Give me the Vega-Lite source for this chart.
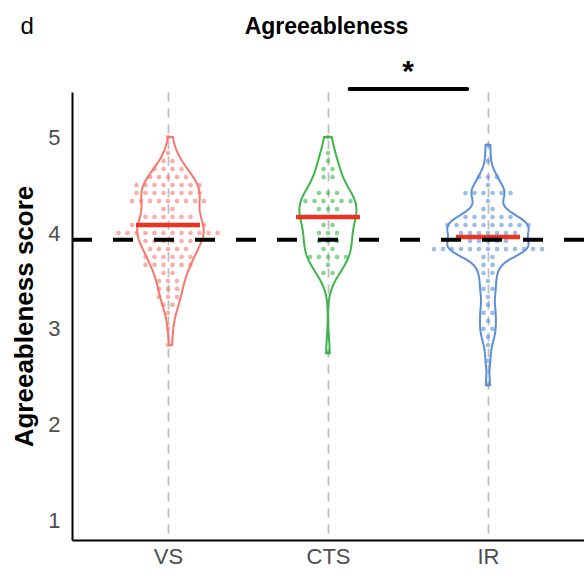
{
"$schema": "https://vega.github.io/schema/vega-lite/v6.json",
"width": 512, "height": 448,
"autosize": {"type": "none"},
"padding": {"left": 72, "top": 92, "right": 0, "bottom": 35},
"background": "white",
"datasets": {
"pts": [
{"g":"VS","s":5},{"g":"VS","s":4.833},{"g":"VS","s":4.75},{"g":"VS","s":4.75},
{"g":"VS","s":4.667},{"g":"VS","s":4.667},{"g":"VS","s":4.667},{"g":"VS","s":4.667},
{"g":"VS","s":4.583},{"g":"VS","s":4.583},{"g":"VS","s":4.583},{"g":"VS","s":4.583},{"g":"VS","s":4.583},
{"g":"VS","s":4.5},{"g":"VS","s":4.5},{"g":"VS","s":4.5},{"g":"VS","s":4.5},{"g":"VS","s":4.5},{"g":"VS","s":4.5},{"g":"VS","s":4.5},{"g":"VS","s":4.5},
{"g":"VS","s":4.417},{"g":"VS","s":4.417},{"g":"VS","s":4.417},{"g":"VS","s":4.417},{"g":"VS","s":4.417},{"g":"VS","s":4.417},{"g":"VS","s":4.417},{"g":"VS","s":4.417},
{"g":"VS","s":4.333},{"g":"VS","s":4.333},{"g":"VS","s":4.333},{"g":"VS","s":4.333},{"g":"VS","s":4.333},{"g":"VS","s":4.333},{"g":"VS","s":4.333},{"g":"VS","s":4.333},{"g":"VS","s":4.333},
{"g":"VS","s":4.25},{"g":"VS","s":4.25},
{"g":"VS","s":4.167},{"g":"VS","s":4.167},{"g":"VS","s":4.167},{"g":"VS","s":4.167},{"g":"VS","s":4.167},{"g":"VS","s":4.167},
{"g":"VS","s":4.083},{"g":"VS","s":4.083},{"g":"VS","s":4.083},{"g":"VS","s":4.083},{"g":"VS","s":4.083},{"g":"VS","s":4.083},{"g":"VS","s":4.083},{"g":"VS","s":4.083},{"g":"VS","s":4.083},
{"g":"VS","s":4},{"g":"VS","s":4},{"g":"VS","s":4},{"g":"VS","s":4},{"g":"VS","s":4},{"g":"VS","s":4},{"g":"VS","s":4},{"g":"VS","s":4},{"g":"VS","s":4},{"g":"VS","s":4},{"g":"VS","s":4},{"g":"VS","s":4},
{"g":"VS","s":3.917},{"g":"VS","s":3.917},{"g":"VS","s":3.917},{"g":"VS","s":3.917},{"g":"VS","s":3.917},{"g":"VS","s":3.917},
{"g":"VS","s":3.833},{"g":"VS","s":3.833},{"g":"VS","s":3.833},{"g":"VS","s":3.833},{"g":"VS","s":3.833},
{"g":"VS","s":3.75},{"g":"VS","s":3.75},{"g":"VS","s":3.75},{"g":"VS","s":3.75},{"g":"VS","s":3.75},{"g":"VS","s":3.75},
{"g":"VS","s":3.667},{"g":"VS","s":3.667},{"g":"VS","s":3.667},{"g":"VS","s":3.667},{"g":"VS","s":3.667},{"g":"VS","s":3.667},
{"g":"VS","s":3.583},{"g":"VS","s":3.583},
{"g":"VS","s":3.5},{"g":"VS","s":3.5},{"g":"VS","s":3.5},
{"g":"VS","s":3.417},{"g":"VS","s":3.417},{"g":"VS","s":3.417},
{"g":"VS","s":3.333},{"g":"VS","s":3.333},{"g":"VS","s":3.333},
{"g":"VS","s":3.25},{"g":"VS","s":3.25},
{"g":"VS","s":3.167},{"g":"VS","s":3},{"g":"VS","s":2.833},
{"g":"CTS","s":5},{"g":"CTS","s":4.833},{"g":"CTS","s":4.75},
{"g":"CTS","s":4.667},{"g":"CTS","s":4.667},
{"g":"CTS","s":4.583},{"g":"CTS","s":4.583},
{"g":"CTS","s":4.417},{"g":"CTS","s":4.417},{"g":"CTS","s":4.417},
{"g":"CTS","s":4.333},{"g":"CTS","s":4.333},{"g":"CTS","s":4.333},{"g":"CTS","s":4.333},{"g":"CTS","s":4.333},{"g":"CTS","s":4.333},
{"g":"CTS","s":4.25},{"g":"CTS","s":4.25},{"g":"CTS","s":4.25},
{"g":"CTS","s":4.167},{"g":"CTS","s":4.167},{"g":"CTS","s":4.167},{"g":"CTS","s":4.167},
{"g":"CTS","s":4.083},{"g":"CTS","s":4.083},
{"g":"CTS","s":4},{"g":"CTS","s":4},{"g":"CTS","s":4},
{"g":"CTS","s":3.917},{"g":"CTS","s":3.917},{"g":"CTS","s":3.917},
{"g":"CTS","s":3.833},{"g":"CTS","s":3.833},
{"g":"CTS","s":3.75},{"g":"CTS","s":3.75},{"g":"CTS","s":3.75},{"g":"CTS","s":3.75},{"g":"CTS","s":3.75},
{"g":"CTS","s":3.667},
{"g":"CTS","s":3.583},{"g":"CTS","s":3.583},
{"g":"CTS","s":2.75},
{"g":"IR","s":4.917},{"g":"IR","s":4.75},
{"g":"IR","s":4.583},{"g":"IR","s":4.583},{"g":"IR","s":4.583},
{"g":"IR","s":4.5},
{"g":"IR","s":4.417},{"g":"IR","s":4.417},{"g":"IR","s":4.417},{"g":"IR","s":4.417},{"g":"IR","s":4.417},{"g":"IR","s":4.417},
{"g":"IR","s":4.333},
{"g":"IR","s":4.25},{"g":"IR","s":4.25},
{"g":"IR","s":4.167},{"g":"IR","s":4.167},{"g":"IR","s":4.167},{"g":"IR","s":4.167},{"g":"IR","s":4.167},{"g":"IR","s":4.167},
{"g":"IR","s":4.083},{"g":"IR","s":4.083},{"g":"IR","s":4.083},{"g":"IR","s":4.083},{"g":"IR","s":4.083},{"g":"IR","s":4.083},{"g":"IR","s":4.083},{"g":"IR","s":4.083},{"g":"IR","s":4.083},{"g":"IR","s":4.083},
{"g":"IR","s":4},{"g":"IR","s":4},{"g":"IR","s":4},{"g":"IR","s":4},{"g":"IR","s":4},{"g":"IR","s":4},{"g":"IR","s":4},
{"g":"IR","s":3.917},{"g":"IR","s":3.917},{"g":"IR","s":3.917},{"g":"IR","s":3.917},{"g":"IR","s":3.917},
{"g":"IR","s":3.833},{"g":"IR","s":3.833},{"g":"IR","s":3.833},{"g":"IR","s":3.833},{"g":"IR","s":3.833},{"g":"IR","s":3.833},{"g":"IR","s":3.833},{"g":"IR","s":3.833},{"g":"IR","s":3.833},{"g":"IR","s":3.833},{"g":"IR","s":3.833},{"g":"IR","s":3.833},{"g":"IR","s":3.833},
{"g":"IR","s":3.75},{"g":"IR","s":3.75},
{"g":"IR","s":3.667},{"g":"IR","s":3.667},
{"g":"IR","s":3.583},{"g":"IR","s":3.583},
{"g":"IR","s":3.5},
{"g":"IR","s":3.417},{"g":"IR","s":3.417},
{"g":"IR","s":3.333},{"g":"IR","s":3.25},
{"g":"IR","s":3.167},{"g":"IR","s":3.167},
{"g":"IR","s":3.083},
{"g":"IR","s":3},{"g":"IR","s":3},
{"g":"IR","s":2.917},{"g":"IR","s":2.833},{"g":"IR","s":2.667},{"g":"IR","s":2.417}
],
"ref": [{"mean": 3.93}],
"sig": [{"from": 2.135, "to": 2.87, "mid": 2.5, "y": 5.5, "label": "*"}]
},
"resolve": {"scale": {"x": "independent"}, "axis": {"y": "independent"}},
"layer": [
{
"data": {"name": "pts"},
"transform": [{"filter": "datum.g === 'VS'"}, {"density": "s", "bandwidth": 0.15, "steps": 200, "as": ["value", "density"]}],
"mark": {"type": "area", "orient": "horizontal", "fill": "white", "fillOpacity": 0, "stroke": "#F8766D", "strokeWidth": 2},
"encoding": {
"y": {"field": "value", "type": "quantitative", "scale": {"domain": [0.8, 5.47], "nice": false, "zero": false}, "axis": null},
"x": {"field": "density", "type": "quantitative", "stack": "center", "impute": null, "scale": {"domain": [-0.847, 5.802], "nice": false, "zero": false},
"axis": {"orient": "top", "labels": false, "ticks": false, "domain": false, "grid": false, "title": "d", "titleFont": "Liberation Sans", "titleFontSize": 24, "titleFontWeight": "normal", "titleColor": "black", "titleX": -52, "titleY": -58.5, "titleAlign": "left", "titleBaseline": "alphabetic", "titleAngle": 0}}
}
},
{
"data": {"name": "pts"},
"transform": [{"filter": "datum.g === 'CTS'"}, {"density": "s", "bandwidth": 0.16, "steps": 200, "as": ["value", "density"]}],
"mark": {"type": "area", "orient": "horizontal", "fill": "white", "fillOpacity": 0, "stroke": "#3DB54A", "strokeWidth": 2},
"encoding": {
"y": {"field": "value", "type": "quantitative", "scale": {"domain": [0.8, 5.47], "nice": false, "zero": false}, "axis": null},
"x": {"field": "density", "type": "quantitative", "stack": "center", "impute": null, "scale": {"domain": [-3.854, 4.824], "nice": false, "zero": false}, "axis": null}
}
},
{
"data": {"name": "pts"},
"transform": [{"filter": "datum.g === 'IR'"}, {"density": "s", "bandwidth": 0.09, "steps": 200, "as": ["value", "density"]}],
"mark": {"type": "area", "orient": "horizontal", "fill": "white", "fillOpacity": 0, "stroke": "#5B8FD6", "strokeWidth": 2},
"encoding": {
"y": {"field": "value", "type": "quantitative", "scale": {"domain": [0.8, 5.47], "nice": false, "zero": false}, "axis": null},
"x": {"field": "density", "type": "quantitative", "stack": "center", "impute": null, "scale": {"domain": [-5.518, 2.011], "nice": false, "zero": false}, "axis": null}
}
},
{
"data": {"name": "pts"},
"transform": [{"filter": "datum.g === 'VS'"}, {"window": [{"op": "row_number", "as": "rn"}]}],
"mark": {"type": "circle", "color": "#F8766D", "opacity": 0.6, "size": 22},
"encoding": {
"y": {"field": "s", "type": "quantitative", "scale": {"domain": [0.8, 5.47], "nice": false, "zero": false}, "axis": null},
"x": {"aggregate": "count", "type": "quantitative", "stack": "center", "scale": {"domain": [-4.167, 52.722], "nice": false, "zero": false}, "axis": null},
"detail": {"field": "rn", "type": "quantitative"}
}
},
{
"data": {"name": "pts"},
"transform": [{"filter": "datum.g === 'CTS'"}, {"window": [{"op": "row_number", "as": "rn"}]}],
"mark": {"type": "circle", "color": "#3DB54A", "opacity": 0.6, "size": 22},
"encoding": {
"y": {"field": "s", "type": "quantitative", "scale": {"domain": [0.8, 5.47], "nice": false, "zero": false}, "axis": null},
"x": {"aggregate": "count", "type": "quantitative", "stack": "center", "scale": {"domain": [-24.944, 31.944], "nice": false, "zero": false}, "axis": null},
"detail": {"field": "rn", "type": "quantitative"}
}
},
{
"data": {"name": "pts"},
"transform": [{"filter": "datum.g === 'IR'"}, {"window": [{"op": "row_number", "as": "rn"}]}],
"mark": {"type": "circle", "color": "#5B8FD6", "opacity": 0.6, "size": 22},
"encoding": {
"y": {"field": "s", "type": "quantitative", "scale": {"domain": [0.8, 5.47], "nice": false, "zero": false}, "axis": null},
"x": {"aggregate": "count", "type": "quantitative", "stack": "center", "scale": {"domain": [-39.222, 17.667], "nice": false, "zero": false}, "axis": null},
"detail": {"field": "rn", "type": "quantitative"}
}
},
{
"data": {"name": "pts"},
"mark": {"type": "tick", "color": "#EB3323", "thickness": 4.5, "size": 64},
"encoding": {
"x": {"field": "g", "type": "nominal", "title": null, "scale": {"type": "point", "domain": ["VS", "CTS", "IR"], "padding": 0.6},
"axis": {"orient": "bottom", "labelFontSize": 22, "labelColor": "#4D4D4D", "labelPadding": 6, "labelAngle": 0, "ticks": false, "domainColor": "black", "domainWidth": 2, "grid": true, "gridColor": "#BEBEBE", "gridDash": [9, 7], "gridWidth": 1.8, "labelFont": "Liberation Sans"}},
"y": {"aggregate": "median", "field": "s", "type": "quantitative", "title": "Agreeableness score", "scale": {"domain": [0.8, 5.47], "nice": false, "zero": false},
"axis": {"orient": "left", "values": [1, 2, 3, 4, 5], "labelFontSize": 22, "labelColor": "#4D4D4D", "labelPadding": 12, "ticks": false, "domainColor": "black", "domainWidth": 2, "grid": false, "labelFont": "Liberation Sans", "titleFont": "Liberation Sans", "titleFontSize": 26, "titleFontWeight": "bold", "titleColor": "black", "titleX": -48, "titleY": 224, "titleBaseline": "middle", "titleAngle": -90}}
}
},
{
"data": {"name": "ref"},
"mark": {"type": "rule", "color": "black", "strokeWidth": 4, "strokeDash": [20, 21]},
"encoding": {
"y": {"field": "mean", "type": "quantitative", "scale": {"domain": [0.8, 5.47], "nice": false, "zero": false}, "axis": null}
}
},
{
"data": {"name": "sig"},
"layer": [
{
"mark": {"type": "rule", "color": "black", "strokeWidth": 4, "strokeCap": "round"},
"encoding": {
"x": {"field": "from", "type": "quantitative", "scale": {"domain": [0.4, 3.6], "nice": false, "zero": false},
"axis": {"orient": "top", "labels": false, "ticks": false, "domain": false, "grid": false, "title": "Agreeableness", "titleFont": "Liberation Sans", "titleFontSize": 23, "titleFontWeight": "bold", "titleColor": "black", "titleX": 254, "titleY": -58.5, "titleAlign": "center", "titleBaseline": "alphabetic", "titleAngle": 0}},
"x2": {"field": "to"},
"y": {"field": "y", "type": "quantitative", "scale": {"domain": [0.8, 5.47], "nice": false, "zero": false}, "axis": null}
}
},
{
"mark": {"type": "text", "color": "black", "fontSize": 30, "fontWeight": "bold", "baseline": "alphabetic", "dy": -8, "font": "Liberation Sans"},
"encoding": {
"x": {"field": "mid", "type": "quantitative", "scale": {"domain": [0.4, 3.6], "nice": false, "zero": false}},
"y": {"field": "y", "type": "quantitative", "scale": {"domain": [0.8, 5.47], "nice": false, "zero": false}, "axis": null},
"text": {"field": "label"}
}
}
]
}
],
"config": {"view": {"stroke": null}, "font": "Liberation Sans"}
}
